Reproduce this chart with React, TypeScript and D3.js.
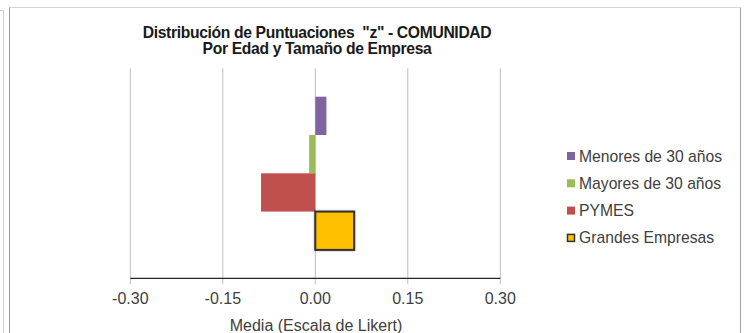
import React from "react";
import * as d3 from "d3";

const categories = ["Menores de 30 años", "Mayores de 30 años", "PYMES", "Grandes Empresas"];
const values = [0.018, -0.01, -0.088, 0.063];
const colors = ["#8064A2", "#9BBB59", "#C0504D", "#FFC000"];
const ticks = [-0.3, -0.15, 0, 0.15, 0.3];
const titleLines = ["Distribución de Puntuaciones \u00A0\"z\" - COMUNIDAD", "Por Edad y Tamaño de Empresa"];
const xTitle = "Media (Escala de Likert)";

const W = 744;
const H = 333;
const plot = { left: 130.3, right: 500.3, top: 68.3, bottom: 278.3 };

const fmt = (t: number) => d3.format(".2f")(t).replace("\u2212", "-");

export default function App() {
  const x = d3.scaleLinear().domain([-0.3, 0.3]).range([plot.left, plot.right]);
  const y = d3
    .scaleBand<string>()
    .domain(categories)
    .range([plot.top + 28.4, plot.bottom - 28.4])
    .padding(0);
  const font = "'Liberation Sans', Arial, sans-serif";

  return (
    <svg
      width={W}
      height={H}
      style={{ position: "fixed", left: 0, top: 0, display: "block", background: "#fff" }}
      fontFamily={font}
    >
      <defs>
        <filter id="soft" x="-20%" y="-20%" width="140%" height="140%">
          <feGaussianBlur in="SourceAlpha" stdDeviation="1.2" />
          <feComponentTransfer>
            <feFuncA type="linear" slope="0.35" />
          </feComponentTransfer>
          <feMerge>
            <feMergeNode />
            <feMergeNode in="SourceGraphic" />
          </feMerge>
        </filter>
      </defs>

      {/* neighbouring frame edge and chart frame */}
      <line x1={3.5} x2={3.5} y1={10} y2={H} stroke="#d0d0d0" />
      <line x1={0} x2={3.5} y1={10.5} y2={10.5} stroke="#d0d0d0" />
      <line x1={9.5} x2={740.5} y1={7.5} y2={7.5} stroke="#d6d6d6" />
      <line x1={9.5} x2={9.5} y1={7.5} y2={H} stroke="#9a9a9a" />
      <line x1={740.5} x2={740.5} y1={7.5} y2={H} stroke="#a0a0a0" />

      {titleLines.map((t, i) => (
        <text
          key={i}
          x={317}
          y={37.5 + i * 16}
          textAnchor="middle"
          fontSize={15.7}
          fontWeight="bold"
          letterSpacing={-0.35}
          fill="#1a1a1a"
        >
          {t}
        </text>
      ))}

      {/* vertical gridlines */}
      {ticks.map((t) => (
        <line
          key={`g${t}`}
          x1={x(t)}
          x2={x(t)}
          y1={plot.top}
          y2={plot.bottom + 6}
          stroke="#bfbfbf"
          strokeWidth={1}
        />
      ))}

      {/* bars */}
      {categories.map((c, i) => {
        const v = values[i];
        const x0 = x(Math.min(0, v));
        const x1 = x(Math.max(0, v));
        const isLast = i === categories.length - 1;
        return (
          <rect
            key={c}
            x={x0}
            y={y(c)!}
            width={x1 - x0}
            height={y.bandwidth()}
            fill={colors[i]}
            stroke={isLast ? "#303030" : "none"}
            strokeWidth={isLast ? 2 : 0}
            filter={isLast ? "url(#soft)" : undefined}
          />
        );
      })}

      {/* x axis */}
      <line x1={plot.left} x2={plot.right} y1={plot.bottom} y2={plot.bottom} stroke="#262626" strokeWidth={1.3} />
      {ticks.map((t) => (
        <text key={`t${t}`} x={x(t)} y={303.5} textAnchor="middle" fontSize={16} fill="#404040">
          {fmt(t)}
        </text>
      ))}
      <text x={316} y={330.5} textAnchor="middle" fontSize={16} fill="#404040">
        {xTitle}
      </text>

      {/* legend */}
      {categories.map((c, i) => {
        const cy = 156 + i * 27.3;
        const isLast = i === categories.length - 1;
        return (
          <g key={`l${c}`}>
            <rect
              x={isLast ? 567.5 : 567}
              y={isLast ? cy - 3.5 : cy - 4}
              width={isLast ? 7 : 8}
              height={isLast ? 7 : 8}
              fill={colors[i]}
              stroke={isLast ? "#303030" : "none"}
              strokeWidth={isLast ? 1.5 : 0}
            />
            <text x={579} y={cy + 5.5} fontSize={15.7} fill="#404040">
              {c}
            </text>
          </g>
        );
      })}
    </svg>
  );
}
